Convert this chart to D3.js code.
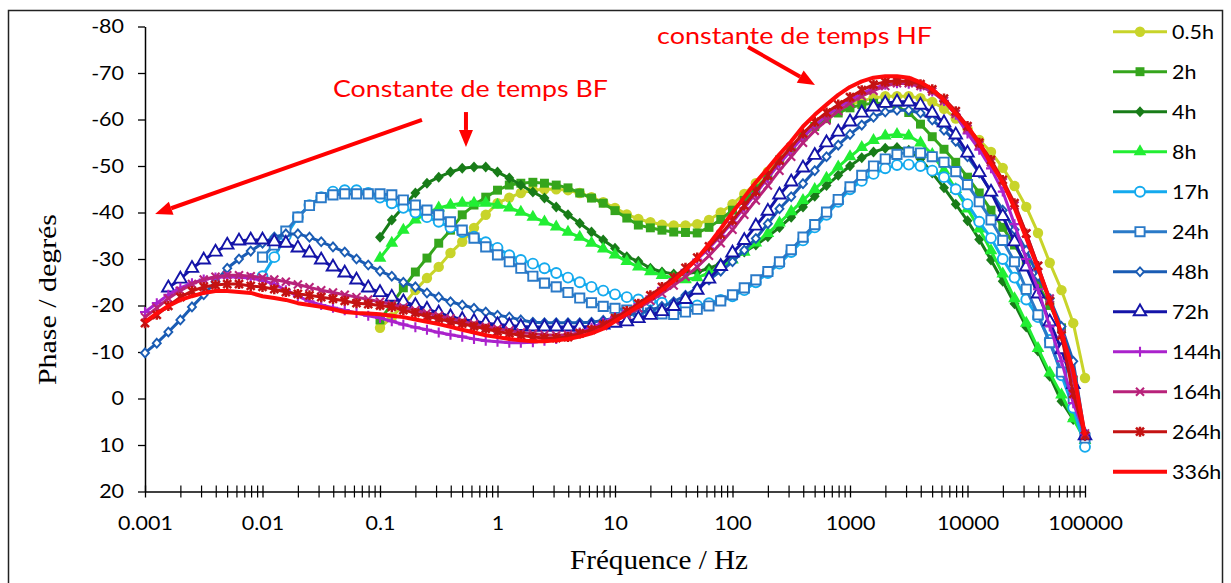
<!DOCTYPE html>
<html>
<head>
<meta charset="utf-8">
<script src="https://cdn.jsdelivr.net/npm/d3@7"></script>
<style>
  html, body { margin: 0; padding: 0; background: #fff; }
  svg { display: block; }
</style>
</head>
<body>
<div id="container"></div>
<script>
// 1) Données : fréquences (Hz), 10 points par décade
const freqs = [
  0.001, 0.00126, 0.00158, 0.002, 0.00251, 0.00316, 0.00398, 0.00501, 0.00631, 0.00794,
  0.01, 0.0126, 0.0158, 0.02, 0.0251, 0.0316, 0.0398, 0.0501, 0.0631, 0.0794,
  0.1, 0.126, 0.158, 0.2, 0.251, 0.316, 0.398, 0.501, 0.631, 0.794,
  1, 1.26, 1.58, 2, 2.51, 3.16, 3.98, 5.01, 6.31, 7.94,
  10, 12.6, 15.8, 20, 25.1, 31.6, 39.8, 50.1, 63.1, 79.4,
  100, 126, 158, 200, 251, 316, 398, 501, 631, 794,
  1000, 1259, 1585, 1995, 2512, 3162, 3981, 5012, 6310, 7943,
  10000, 12589, 15849, 19953, 25119, 31623, 39811, 50119, 63096, 79433,
  100000
];

// Phase (degrés) ; chaque série se termine à 100 kHz
const phase05h = [
  -15.2, -17.5, -20.1, -23.3, -25.9, -28.3, -31.3, -33.7, -36.7, -39.5,
  -42, -43.2, -44.2, -44.8, -45, -45, -44.8, -44.2, -43.3, -42.2,
  -41, -39.6, -38.6, -37.9, -37.4, -37.2, -37.2, -37.5, -38.4, -40,
  -41.8, -44, -46.3, -48.8, -51.3, -53.8, -56.2, -58.4, -60.3, -61.9,
  -63.2, -64, -64.6, -65, -65, -65, -64.6, -63.8, -62.3, -60.2,
  -58, -55.6, -53, -49.6, -45.7, -41.2, -35.6, -29.2, -23.3, -16.2,
  -4.4
];
const phase2h = [
  -16.9, -20.3, -23.8, -27.2, -30.2, -33.4, -36.2, -39.5, -41.6, -43.3,
  -44.8, -45.9, -46.3, -46.5, -46.3, -45.9, -45.3, -44.2, -43.1, -42,
  -40.4, -38.8, -37.3, -36.7, -36.2, -35.8, -35.7, -35.6, -36.8, -38.5,
  -40.5, -42.6, -45.1, -47.9, -51.3, -53.9, -56.3, -58.5, -60.2, -61.4,
  -62.5, -63.2, -63.5, -63.5, -62.8, -61.5, -59, -56.3, -53.6, -50.8,
  -47.6, -44.2, -40.5, -36.8, -33, -29, -24.5, -20, -15.2, -4,
  8
];
const phase4h = [
  -34.7, -38.4, -41.2, -44.2, -46.3, -47.6, -48.7, -49.5, -49.8, -49.8,
  -48.7, -47.4, -45.9, -44.4, -43.1, -41.2, -39.5, -37.7, -35.8, -34.1,
  -32.3, -30.5, -29.5, -28, -27.2, -26.8, -26.8, -27.2, -28, -29,
  -30.2, -31.5, -33, -34.8, -36.8, -39, -41.2, -43.5, -45.8, -48,
  -50, -51.8, -53, -53.8, -54, -53.4, -51.5, -48.5, -45.3, -41.8,
  -38.2, -34.2, -29.8, -25.2, -20.4, -15.4, -10.2, -4.8, 0.6, 4.5,
  8
];
const phase8h = [
  -30.2, -33.4, -36.2, -38.4, -39.9, -41, -41.6, -42, -42, -42,
  -41.6, -41, -40.1, -39, -38, -36.9, -35.8, -34.7, -33.4, -32.2,
  -30.9, -29.5, -28.3, -27.3, -26.5, -25.9, -25.6, -26, -27, -28.3,
  -29.8, -31.5, -33.5, -35.5, -37.8, -40.2, -42.6, -45, -47.4, -49.8,
  -52, -54, -55.5, -56.5, -56.8, -56.5, -55, -52.5, -49, -45,
  -40.8, -36.5, -31.8, -26.8, -21.5, -16.2, -10.8, -5.5, -0.8, 4.3,
  9
];
const phase17h = [
  -26.3, -30.4, -35, -39, -41.6, -43.3, -44.5, -44.8, -44.8, -44.2,
  -43.2, -42, -41, -40, -39, -38, -36.8, -35.8, -34.8, -33.6,
  -32.4, -30.8, -29.8, -29, -28, -27, -26, -25, -24, -23.2,
  -22.4, -21.8, -21.3, -21, -20.6, -20.2, -20, -20, -20.5, -21.2,
  -22, -23.3, -25, -27, -29, -31.5, -34, -36.8, -39.5, -42.3,
  -45, -46.8, -48.3, -49.5, -50.2, -50.3, -50, -49, -47.6, -45,
  -41.8, -38, -34.5, -30, -26, -21.3, -17.5, -12.6, -5, 2,
  10.4
];
const phase24h = [
  -30.4, -33, -36, -39, -41.5, -43.2, -43.8, -44, -44, -44,
  -44, -43.8, -42.7, -41.6, -40.5, -39.5, -38, -36.2, -34.5, -32.6,
  -30.9, -29.4, -28, -26.3, -24.8, -24, -22.8, -21.6, -20.6, -19.8,
  -19.4, -19, -18.7, -18.4, -18.2, -18.1, -18.6, -19.2, -19.9, -21,
  -22.3, -23.8, -25.5, -27.3, -29.4, -32, -34.7, -37.4, -40.1, -42.8,
  -45.5, -48, -50, -51.5, -52.5, -53, -52.8, -52, -50.8, -48.8,
  -46, -42.3, -38.4, -34, -29.4, -23.5, -18, -12, -5.7, 0,
  8.5
];
const phase48h = [
  -9.8, -11.9, -14.3, -16.9, -19.7, -22.3, -25.1, -28, -30, -31.7,
  -33.4, -34.7, -35.4, -35.4, -34.7, -33.7, -32.6, -31.5, -30, -28.7,
  -27.4, -26.3, -25, -24, -22.7, -21.8, -20.8, -20.1, -19.4, -18.6,
  -17.9, -17.5, -16.9, -16.4, -16.3, -16.3, -16.3, -16.3, -16.4, -16.8,
  -17.3, -17.9, -18.4, -19, -19.8, -20.8, -22.2, -23.8, -25.5, -27.4,
  -29.4, -31.9, -34.4, -37.6, -40.8, -43.4, -46.2, -49, -52, -54.5,
  -56.8, -58.8, -60.5, -61.6, -62, -62, -61.4, -59.9, -57.7, -55.3,
  -52, -48.5, -44.5, -40.5, -36.3, -31.9, -26.3, -21.5, -15.5, -8,
  8
];
const phase72h = [
  -23.8, -25.7, -28, -29.8, -31.5, -33, -33.9, -34.1,
  -34.1, -33.7, -33.4, -32.4, -31.3, -29.8, -28.3, -27, -25.5, -23.8,
  -22.8, -21.8, -20.8, -20, -19.2, -18.4, -17.6, -17, -16.6, -16.2,
  -15.9, -15.7, -15.5, -15.4, -15.4, -15.4, -15.4, -15.4, -15.5, -15.8,
  -16.2, -16.5, -17.2, -17.9, -18.7, -19.8, -21.3, -23.3, -25.7, -28.4,
  -31.3, -34, -37.1, -40.3, -43.8, -46.6, -49.6, -52.3, -55, -57.3,
  -59.5, -61.4, -62.7, -63.5, -63.8, -63.8, -63.1, -61.4, -59.3, -56.7,
  -52.8, -48.6, -44.4, -39.2, -33.7, -28.3, -22.5, -16.5, -10.5, -3,
  8
];
const phase144h = [
  -18.6, -20.5, -22.3, -23.8, -24.8, -25.6, -26, -26.2, -26.1, -25.9,
  -25.4, -24.6, -23.3, -22, -20.9, -20.1, -19.5, -19, -18.4, -17.8,
  -17.3, -16.6, -15.9, -15.3, -14.8, -14.2, -13.7, -13.3, -12.8, -12.4,
  -12.2, -12, -12, -12.1, -12.4, -12.8, -13.4, -14.2, -15.2, -16.3,
  -17.5, -18.8, -20.3, -22, -23.8, -25.7, -27.7, -29.9, -32.3, -35,
  -37.9, -41, -44.1, -47.4, -50.5, -53.4, -56.2, -58.7, -60.8, -62.6,
  -64.2, -65.6, -66.7, -67.5, -67.8, -67.7, -67.1, -66, -64, -61,
  -57, -53.5, -49.5, -44.5, -37.5, -30, -23.5, -15.5, -8, 1,
  7.5
];
const phase164h = [
  -17.5, -19.5, -21.5, -23.2, -24.6, -25.6, -26.2, -26.5, -26.5, -26.3,
  -26, -25.6, -25.1, -24.5, -23.9, -23.3, -22.8, -22.3, -21.8, -21.3,
  -20.8, -20.2, -19.6, -19, -18.4, -17.8, -17.2, -16.6, -16, -15.5,
  -15, -14.6, -14.2, -13.9, -13.7, -13.6, -13.7, -14.1, -14.8, -15.6,
  -16.7, -18, -19.4, -21, -22.6, -24.3, -26.2, -28.3, -30.7, -33.4,
  -36.3, -39.5, -42.6, -45.8, -49, -52, -55, -57.6, -59.8, -61.8,
  -63.5, -65, -66.2, -67.2, -67.8, -67.8, -67.2, -66, -64, -61.2,
  -58, -54.5, -50.8, -46.5, -41.5, -35.5, -28.5, -21.5, -14, -4,
  7.5
];
const phase264h = [
  -16.2, -18, -19.9, -21.8, -23.1, -24, -24.4, -24.6, -24.6, -24.2,
  -24, -23.5, -22.9, -22.5, -22.2, -21.8, -21.4, -21, -20.5, -20.3,
  -20, -19.7, -19, -18.4, -17.6, -17.2, -16.5, -16.1, -15.5, -15,
  -14.4, -14, -13.6, -13.2, -13, -13, -13.2, -14, -14.8, -15.9,
  -17.3, -18.8, -20.4, -22.2, -24, -26, -28.1, -30.3, -32.7, -35.3,
  -38.3, -41.5, -44.5, -48, -51.2, -54.1, -57, -59.5, -61.5, -63.2,
  -64.8, -66.3, -67.5, -68.1, -68.3, -68.2, -67.6, -66.5, -64.5, -61.8,
  -58.6, -55, -51.3, -47, -42, -35.5, -28.5, -21, -13.5, -1,
  8
];
const phase336h = [
  -16.5, -18.3, -19.9, -21.2, -22, -22.7, -23.1, -23.1, -22.9, -22.7,
  -22, -21.6, -21.2, -20.5, -20.1, -19.7, -19.2, -18.6, -18.4, -18.3,
  -18.1, -17.8, -17.5, -17, -16.5, -16, -15.4, -14.8, -14.2, -13.6,
  -13.2, -12.8, -12.5, -12.3, -12.3, -12.5, -12.8, -13.3, -14, -15,
  -16.6, -18.2, -19.8, -21.5, -23.3, -25.3, -27.6, -30.1, -33.2, -36.5,
  -40, -43.3, -46.5, -49.5, -52.5, -55.3, -58.5, -61, -63.2, -65.3,
  -67, -68.2, -69, -69.3, -69.3, -69, -68, -66.5, -64.2, -61.3,
  -58.5, -55, -50.5, -46.5, -41, -34.5, -28, -21, -14, -6,
  8
];

const seriesNames = ['0.5h', '2h', '4h', '8h', '17h', '24h', '48h', '72h', '144h', '164h', '264h', '336h'];
const seriesValues = [phase05h, phase2h, phase4h, phase8h, phase17h, phase24h,
                      phase48h, phase72h, phase144h, phase164h, phase264h, phase336h];

const xTickValues = [0.001, 0.01, 0.1, 1, 10, 100, 1000, 10000, 100000];
const xTickLabels = ['0.001', '0.01', '0.1', '1', '10', '100', '1000', '10000', '100000'];
const yTickValues = [-80, -70, -60, -50, -40, -30, -20, -10, 0, 10, 20];

// annotations (en coordonnées fréquence / phase)
const notes = [
  { text: 'Constante de temps BF', f: 0.0398, v: -64.8, len: 275 },
  { text: 'constante de temps HF', f: 22.8, v: -76.2, len: 275 }
];
const arrows = [
  { f1: 0.2275, v1: -59.9, f2: 0.00122, v2: -39.7 },
  { f1: 0.539, v1: -61.6, f2: 0.539, v2: -54.1 },
  { f1: 135.5, v1: -75.6, f2: 503.5, v2: -67.4 }
];

// 2) Styles des séries
const styles = [
  { color: '#c8d42a', marker: 'circle',   open: false, size: 85 },
  { color: '#35a51c', marker: 'square',   open: false, size: 80 },
  { color: '#187c18', marker: 'diamond',  open: false, size: 5 },
  { color: '#22ee33', marker: 'triangle', open: false, size: 70 },
  { color: '#14aaee', marker: 'circle',   open: true,  size: 78 },
  { color: '#2a7ac8', marker: 'square',   open: true,  size: 85 },
  { color: '#1a5cb4', marker: 'diamond',  open: true,  size: 4 },
  { color: '#1414a8', marker: 'triangle', open: true,  size: 68 },
  { color: '#aa22cc', marker: 'plus',     open: false, size: 5 },
  { color: '#b8227a', marker: 'cross',    open: false, size: 4 },
  { color: '#c41212', marker: 'star',     open: false, size: 4 },
  { color: '#ff0a0a', marker: 'none',     open: false, size: 0 }
];

const SANS = 'Lato, "Open Sans", sans-serif';
const SERIF = '"Liberation Serif", "Times New Roman", serif';

function widen(sel, k) {
  sel.each(function () {
    const w = this.getComputedTextLength();
    d3.select(this).attr('textLength', w * k).attr('lengthAdjust', 'spacingAndGlyphs');
  });
}

function markerPath(st) {
  const s = st.size;
  switch (st.marker) {
    case 'circle':   return d3.symbol(d3.symbolCircle, s)();
    case 'square':   return d3.symbol(d3.symbolSquare, s)();
    case 'diamond':  return `M0,${-s * 1.1}L${s},0L0,${s * 1.1}L${-s},0Z`;
    case 'triangle': return d3.symbol(d3.symbolTriangle, s)();
    case 'plus':     return `M${-s},0H${s}M0,${-s}V${s}`;
    case 'cross':    return `M${-s},${-s}L${s},${s}M${-s},${s}L${s},${-s}`;
    case 'star':     return `M${-s},${-s}L${s},${s}M${-s},${s}L${s},${-s}M0,${-s - 1}V${s + 1}`;
    default:         return null;
  }
}

function drawMarker(g, st, cx, cy) {
  const p = markerPath(st);
  if (!p) return;
  const m = g.append('path')
    .attr('d', p)
    .attr('transform', `translate(${cx},${cy})`);
  if (['plus', 'cross', 'star'].includes(st.marker)) {
    m.attr('fill', 'none').attr('stroke', st.color)
      .attr('stroke-width', st.marker === 'star' ? 2.5 : 2.1);
  } else if (st.open) {
    m.attr('fill', '#fff').attr('stroke', st.color).attr('stroke-width', 1.9);
  } else {
    m.attr('fill', st.color);
  }
}

function drawChart() {
  const width = 1231, height = 583;
  const left = 145, right = 1085, top = 26.5, bottom = 491.5;

  const svg = d3.select('#container').append('svg')
    .attr('width', width).attr('height', height);

  // cadre
  svg.append('rect')
    .attr('x', 8.5).attr('y', 10.5)
    .attr('width', 1214).attr('height', 585)
    .attr('fill', 'none').attr('stroke', '#222').attr('stroke-width', 1.5);

  // 3) Echelles
  const x = d3.scaleLog().domain([0.001, 100000]).range([left, right]);
  const y = d3.scaleLinear().domain([-80, 20]).range([top, bottom]);

  // 4) Axes
  const gy = svg.append('g')
    .attr('transform', `translate(${left},0)`)
    .call(d3.axisLeft(y).tickValues(yTickValues).tickSizeInner(7).tickSizeOuter(0)
      .tickPadding(14).tickFormat(d => String(d)));
  gy.select('.domain').attr('stroke', '#000').attr('stroke-width', 1.5);
  gy.selectAll('.tick line').attr('stroke', '#000').attr('stroke-width', 1.3);
  gy.selectAll('.tick text')
    .attr('font-family', SANS).attr('font-size', 19.5).attr('fill', '#000')
    .call(widen, 1.1);

  const minor = [];
  xTickValues.slice(0, -1).forEach(d => {
    for (let k = 2; k <= 9; k++) minor.push(d * k);
  });
  const gxm = svg.append('g')
    .attr('transform', `translate(0,${bottom})`)
    .call(d3.axisBottom(x).tickValues(minor).tickSize(6).tickFormat(''));
  gxm.select('.domain').remove();
  gxm.selectAll('.tick line').attr('y1', -6).attr('y2', 6)
    .attr('stroke', '#000').attr('stroke-width', 1.2);

  const gx = svg.append('g')
    .attr('transform', `translate(0,${bottom})`)
    .call(d3.axisBottom(x).tickValues(xTickValues).tickSizeInner(6).tickSizeOuter(0)
      .tickFormat((d, i) => xTickLabels[i]));
  gx.select('.domain').attr('stroke', '#000').attr('stroke-width', 1.5);
  gx.selectAll('.tick line').attr('y1', -6).attr('y2', 6)
    .attr('stroke', '#000').attr('stroke-width', 1.3);
  gx.selectAll('.tick text')
    .attr('y', 38).attr('dy', null)
    .attr('font-family', SANS).attr('font-size', 19.5).attr('fill', '#000')
    .call(widen, 1.1);

  // titres d'axes
  svg.append('text')
    .attr('transform', `translate(56,299.5) rotate(-90)`)
    .attr('text-anchor', 'middle')
    .attr('font-family', SERIF).attr('font-size', 26).attr('fill', '#000')
    .attr('textLength', 171).attr('lengthAdjust', 'spacingAndGlyphs')
    .text('Phase  / degrés');
  svg.append('text')
    .attr('x', 659).attr('y', 569)
    .attr('text-anchor', 'middle')
    .attr('font-family', SERIF).attr('font-size', 27).attr('fill', '#000')
    .attr('textLength', 178).attr('lengthAdjust', 'spacingAndGlyphs')
    .text('Fréquence / Hz');

  // 5) Séries
  const line = d3.line().x(d => x(d.f)).y(d => y(d.v));
  seriesValues.forEach((vals, s) => {
    const st = styles[s];
    const offset = freqs.length - vals.length;
    const pts = vals.map((v, k) => ({ f: freqs[offset + k], v }));
    const g = svg.append('g');
    g.append('path')
      .datum(pts)
      .attr('fill', 'none')
      .attr('stroke', st.color)
      .attr('stroke-width', st.marker === 'none' ? 4 : 3)
      .attr('stroke-linejoin', 'round')
      .attr('d', line);
    pts.forEach(d => drawMarker(g, st, x(d.f), y(d.v)));
  });

  // 6) Légende
  const lg = svg.append('g');
  seriesNames.forEach((name, s) => {
    const st = styles[s];
    const ly = 31.7 + s * 40;
    lg.append('line')
      .attr('x1', 1113).attr('x2', 1167).attr('y1', ly).attr('y2', ly)
      .attr('stroke', st.color).attr('stroke-width', st.marker === 'none' ? 4 : 3);
    drawMarker(lg, st, 1140, ly);
    lg.append('text')
      .attr('x', 1172).attr('y', ly + 7)
      .attr('font-family', SANS).attr('font-size', 19.5).attr('fill', '#000')
      .text(name)
      .call(widen, 1.1);
  });

  // 7) Annotations
  notes.forEach(n => {
    svg.append('text')
      .attr('x', x(n.f)).attr('y', y(n.v))
      .attr('font-family', SANS).attr('font-size', 24).attr('fill', '#ff0000')
      .attr('textLength', n.len).attr('lengthAdjust', 'spacingAndGlyphs')
      .text(n.text);
  });
  arrows.forEach(a => {
    const x1 = x(a.f1), y1 = y(a.v1), x2 = x(a.f2), y2 = y(a.v2);
    const ang = Math.atan2(y2 - y1, x2 - x1);
    const hl = 17, hw = 7;
    const bx = x2 - hl * Math.cos(ang), by = y2 - hl * Math.sin(ang);
    svg.append('line')
      .attr('x1', x1).attr('y1', y1).attr('x2', bx).attr('y2', by)
      .attr('stroke', '#ff0000').attr('stroke-width', 4);
    const px = -Math.sin(ang) * hw, py = Math.cos(ang) * hw;
    svg.append('path')
      .attr('d', `M${x2},${y2}L${bx + px},${by + py}L${bx - px},${by - py}Z`)
      .attr('fill', '#ff0000');
  });
}

drawChart();
</script>
</body>
</html>
